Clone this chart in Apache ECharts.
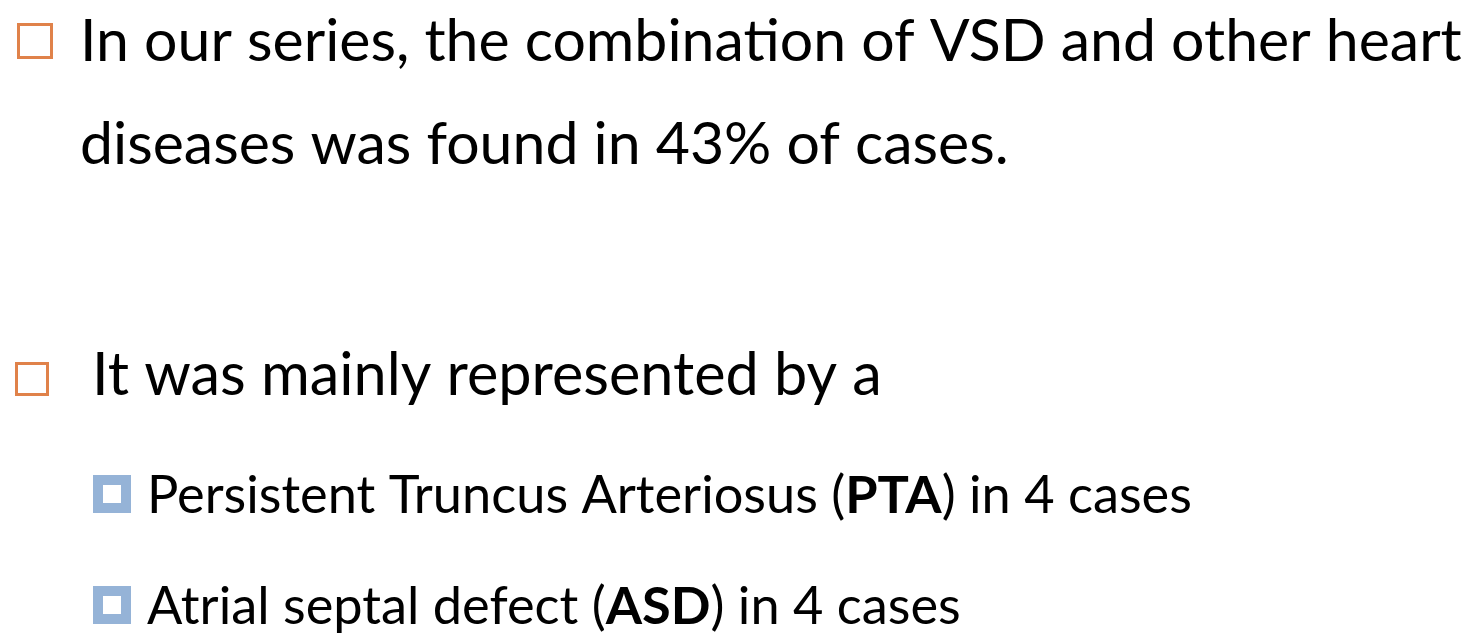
<!DOCTYPE html>
<html>
<head>
<meta charset="utf-8">
<script src="https://cdn.jsdelivr.net/npm/echarts@6/dist/echarts.min.js"></script>
<style>
html, body { margin: 0; padding: 0; background: #fff; }
#main { width: 1473px; height: 637px; }
</style>
</head>
<body>
<div id="main"></div>
<script>
// slide text, one entry per line
var main_lines = [
    'In our series, the combination of VSD and other heart',
    'diseases was found in 43% of cases.'
];
var second_line = 'It was mainly represented by a';
// sub bullets: [before, bold, after]
var sub_items = [
    ['Persistent Truncus Arteriosus (', 'PTA', ') in 4 cases'],
    ['Atrial septal defect (', 'ASD', ') in 4 cases']
];

var FONT = 'Lato';
var ORANGE = '#e0824a';
var BLUE = '#95b3d7';

var cv = document.createElement('canvas').getContext('2d');
function text_width(s, size, weight)
{
    cv.font = (weight || 'normal') + ' ' + size + 'px ' + FONT;
    return cv.measureText(s).width;
}

/* pick a font size so that the text spans the wanted width */
function fit_size(parts, target)
{
    var w = 0;
    parts.forEach(function (p) { w += text_width(p[0], 100, p[1]); });
    return 100 * target / w;
}

var size1 = fit_size([[main_lines[0]]], 1382);
var size2 = fit_size([[second_line]], 790);
var size3 = fit_size([[sub_items[0][0]], [sub_items[0][1], 'bold'], [sub_items[0][2]]], 1045);

var graphics = [];

function hollow_box(x, y, s)
{
    graphics.push({
	type: 'rect',
	shape: {x: x, y: y, width: s, height: s},
	style: {fill: '#fff', stroke: ORANGE, lineWidth: 3}
    });
}

function blue_box(x, y)
{
    graphics.push({
	type: 'rect',
	shape: {x: x, y: y, width: 38, height: 38},
	style: {fill: BLUE}
    });
    graphics.push({
	type: 'rect',
	shape: {x: x + 10, y: y + 10, width: 18, height: 18},
	style: {fill: '#fff'}
    });
}

function line_text(s, x, y, size)
{
    graphics.push({
	type: 'text',
	x: x, y: y,
	style: {text: s, fill: '#000', font: size + 'px ' + FONT, verticalAlign: 'middle'}
    });
}

hollow_box(18.5, 24.5, 33);
line_text(main_lines[0], 80, 42, size1);
line_text(main_lines[1], 80, 145, size1);

hollow_box(16.5, 363.5, 31);
line_text(second_line, 92, 376, size2);

var sub_y = [475, 586];
sub_items.forEach(function (it, i) {
    blue_box(93, sub_y[i]);
    graphics.push({
	type: 'text',
	x: 147, y: sub_y[i] + 21,
	style: {
	    text: it[0] + '{b|' + it[1] + '}' + it[2],
	    fill: '#000',
	    font: size3 + 'px ' + FONT,
	    verticalAlign: 'middle',
	    rich: {b: {fontWeight: 'bold', fontSize: size3, fontFamily: FONT, fill: '#000'}}
	}
    });
});

var chart = echarts.init(document.getElementById('main'));
chart.setOption({
    backgroundColor: '#fff',
    animation: false,
    graphic: graphics
});
</script>
</body>
</html>
